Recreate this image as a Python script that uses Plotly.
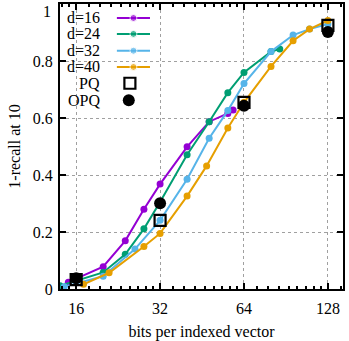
import numpy as np
import plotly.graph_objects as go

# ---------------- data ----------------
series_names = ["d=16", "d=24", "d=32", "d=40"]
d16_x = [15, 20, 24, 28, 32, 40, 48, 56, 58.5]
d16_y = [0.024, 0.078, 0.169, 0.280, 0.368, 0.499, 0.587, 0.616, 0.628]
d24_x = [14, 20, 24, 28, 32, 40, 48, 56, 64, 80, 86]
d24_y = [0.011, 0.058, 0.122, 0.211, 0.305, 0.471, 0.587, 0.689, 0.760, 0.833, 0.842]
d32_x = [14.5, 20, 26, 32, 40, 48, 56, 64, 80, 96, 110, 128]
d32_y = [0.008, 0.045, 0.140, 0.241, 0.385, 0.529, 0.626, 0.721, 0.833, 0.891, 0.912, 0.930]
d40_x = [17, 21, 28, 32, 40, 47, 56, 64, 80, 96, 110, 128]
d40_y = [0.0165, 0.057, 0.149, 0.195, 0.326, 0.432, 0.565, 0.655, 0.781, 0.871, 0.912, 0.942]
pq_x = [16, 32, 64, 128]
pq_y = [0.033, 0.241, 0.655, 0.925]
opq_x = [16, 32, 64, 128]
opq_y = [0.038, 0.301, 0.643, 0.902]
x_ticks = [16, 32, 64, 128]
y_ticks = [0, 0.2, 0.4, 0.6, 0.8, 1]
y_ticktext = ["0", "0.2", "0.4", "0.6", "0.8", "1"]

colors = ["#9400d3", "#009e73", "#56b4e9", "#e69f00"]
FONT = "Liberation Serif"
FS = 16

xs = [d16_x, d24_x, d32_x, d40_x]
ys = [d16_y, d24_y, d32_y, d40_y]

fig = go.Figure()
for name, x, y, c in zip(series_names, xs, ys, colors):
    fig.add_trace(go.Scatter(x=x, y=y, mode="lines+markers", name=name,
                             line=dict(color=c, width=2),
                             marker=dict(color=c, size=7, symbol="circle"),
                             showlegend=False, cliponaxis=True))

fig.add_trace(go.Scatter(x=pq_x, y=pq_y, mode="markers", name="PQ",
                         marker=dict(symbol="square-open", size=11, color="black",
                                     line=dict(width=2.2, color="black")),
                         showlegend=False))
fig.add_trace(go.Scatter(x=opq_x, y=opq_y, mode="markers", name="OPQ",
                         marker=dict(symbol="circle", size=12, color="black"),
                         showlegend=False))

# ---------------- manual legend (gnuplot style) ----------------
legend_rows = [0.951, 0.895, 0.836, 0.779, 0.722, 0.662]
lx0, lx1, lxm = 0.201, 0.318, 0.2595
for i, (name, c) in enumerate(zip(series_names, colors)):
    fig.add_trace(go.Scatter(x=[lx0, lxm, lx1], y=[legend_rows[i]] * 3,
                             mode="lines+markers", xaxis="x2", yaxis="y2",
                             line=dict(color=c, width=2),
                             marker=dict(color=c, size=[0, 7, 0]),
                             showlegend=False, hoverinfo="skip"))
fig.add_trace(go.Scatter(x=[0.247], y=[legend_rows[4]], mode="markers", xaxis="x2", yaxis="y2",
                         marker=dict(symbol="square-open", size=11, color="black",
                                     line=dict(width=2.2, color="black")),
                         showlegend=False, hoverinfo="skip"))
fig.add_trace(go.Scatter(x=[0.243], y=[legend_rows[5]], mode="markers", xaxis="x2", yaxis="y2",
                         marker=dict(symbol="circle", size=12, color="black"),
                         showlegend=False, hoverinfo="skip"))
labels = series_names + ["PQ", "OPQ"]
for i, t in enumerate(labels):
    fig.add_annotation(x=0.148, y=legend_rows[i], xref="paper", yref="paper",
                       text=t, showarrow=False, xanchor="right", yanchor="middle",
                       font=dict(family=FONT, size=FS, color="black"))

# top tick label "1" drawn as text nudged inside the page (as in the reference)
shown_ticktext = y_ticktext[:-1] + [""]
fig.add_annotation(x=0, y=y_ticks[-1], xref="paper", yref="y",
                   text=y_ticktext[-1], showarrow=False, xanchor="right", yanchor="top",
                   xshift=-7, yshift=3,
                   font=dict(family=FONT, size=FS, color="black"))

# minor ticks for log axis: 2^n*(1+k/9)
minor_vals = []
for base in [8, 16, 32, 64, 128]:
    for k in range(1, 9):
        minor_vals.append(base * (1 + k / 9))

fig.update_layout(
    width=349, height=341,
    margin=dict(l=60, r=6, t=4, b=52, autoexpand=False),
    paper_bgcolor="white", plot_bgcolor="white",
    font=dict(family=FONT, size=FS, color="black"),
    xaxis=dict(type="log", range=[np.log10(14), np.log10(145)], automargin=False,
               tickvals=x_ticks, ticktext=[str(v) for v in x_ticks],
               ticks="inside", ticklen=6, tickwidth=1.5, tickcolor="black",
               ticklabelstandoff=4, ticklabeloverflow="allow",
               showline=True, linecolor="black", linewidth=2, mirror="allticks",
               showgrid=True, gridcolor="#a0a0a0", griddash="dot", gridwidth=1,
               zeroline=False,
               minor=dict(tickvals=minor_vals, ticks="inside", ticklen=3,
                          tickwidth=1.5, tickcolor="black", showgrid=False),
               title=dict(text="bits per indexed vector", standoff=17,
                          font=dict(family=FONT, size=FS)),
               tickfont=dict(family=FONT, size=FS)),
    yaxis=dict(range=[0, 1], tickvals=y_ticks, ticktext=shown_ticktext, automargin=False,
               ticks="inside", ticklen=6, tickwidth=1.5, tickcolor="black",
               ticklabelstandoff=2, ticklabeloverflow="allow",
               showline=True, linecolor="black", linewidth=2, mirror="allticks",
               showgrid=True, gridcolor="#a0a0a0", griddash="dot", gridwidth=1,
               zeroline=False,
               title=dict(text="1-recall at 10", standoff=8,
                          font=dict(family=FONT, size=FS)),
               tickfont=dict(family=FONT, size=FS)),
    xaxis2=dict(overlaying="x", range=[0, 1], visible=False, anchor="y2"),
    yaxis2=dict(overlaying="y", range=[0, 1], visible=False, anchor="x2"),
)

fig.write_html("out.html", config={"displayModeBar": False},
               post_script="document.body.style.margin='0';document.body.style.padding='0';")
